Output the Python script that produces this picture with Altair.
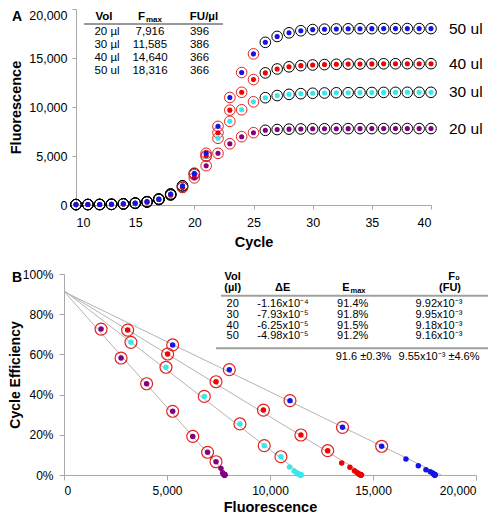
import altair as alt
import pandas as pd

FONT = "Liberation Sans, Arial, Helvetica, sans-serif"

# ---------------- data ----------------
cycles = list(range(10, 41))
series = ["20 ul", "30 ul", "40 ul", "50 ul"]
colors = ["#800080", "#38E8E8", "#F00000", "#1414E6"]

f20 = [40, 45, 50, 65, 105, 175, 300, 560, 1040, 1800, 2770, 4010, 5275, 6250, 6970, 7380,
       7620, 7700, 7740, 7760, 7775, 7780, 7785, 7790, 7790, 7795, 7795, 7800, 7800, 7800, 7800]
f30 = [45, 50, 55, 70, 120, 200, 340, 620, 1120, 1960, 3250, 4950, 6810, 8540, 9720, 10530,
       10950, 11170, 11290, 11360, 11400, 11430, 11450, 11460, 11470, 11480, 11490, 11495, 11500, 11500, 11500]
f40 = [40, 45, 50, 65, 110, 180, 310, 560, 1020, 1800, 3090, 5030, 7380, 9680, 11500, 12800,
       13480, 13880, 14100, 14220, 14290, 14330, 14360, 14380, 14390, 14400, 14410, 14415, 14420, 14420, 14420]
f50 = [45, 50, 55, 70, 120, 200, 340, 610, 1120, 1950, 3200, 5275, 8025, 10970, 13520, 15420,
       16600, 17200, 17570, 17780, 17900, 17940, 17965, 17980, 17990, 17995, 18000, 18000, 18000, 18000, 18000]
fluor = [f20, f30, f40, f50]

fit_start = [19, 20, 20, 21]
fit_end = [25, 25, 25, 25]

# cycle efficiency (%) from fit_start cycle to cycle 40
e20 = [72.6, 58.2, 45.4, 31.7, 19.2, 11.3, 6.6, 3.3, 1.1, 0.5, 0.3, 0.2, 0.1, 0.1, 0.1, 0.0, 0.1, 0.0, 0.1, 0.0, 0.0, 0.0]
e30 = [66.0, 53.6, 39.1, 25.4, 14.6, 9.1, 4.0, 2.0, 1.1, 0.6, 0.35, 0.3, 0.2, 0.1, 0.1, 0.1, 0.1, 0.05, 0.0, 0.0, 0.0]
e40 = [72.1, 60.2, 46.4, 32.3, 19.9, 12.1, 6.0, 3.8, 2.1, 1.3, 0.6, 0.4, 0.3, 0.2, 0.1, 0.1, 0.1, 0.05, 0.0, 0.0, 0.0]
e50 = [64.7, 52.4, 37.0, 23.7, 14.3, 8.0, 4.6, 2.6, 1.6, 1.0, 0.5, 0.3, 0.2, 0.1, 0.1, 0.1, 0.0, 0.0, 0.0, 0.0]
effs = [e20, e30, e40, e50]

fmax_num = [7916, 11585, 14640, 18316]
emax_num = [0.914, 0.918, 0.915, 0.912]

volA = ["20 \u00b5l", "30 \u00b5l", "40 \u00b5l", "50 ul"]
fmaxA = ["7,916", "11,585", "14,640", "18,316"]
fuA = ["396", "386", "366", "366"]

volB = ["20", "30", "40", "50"]
dE = ["-1.16x10\u207b\u2074", "-7.93x10\u207b\u2075", "-6.25x10\u207b\u2075", "-4.98x10\u207b\u2075"]
emaxB = ["91.4%", "91.8%", "91.5%", "91.2%"]
f0B = ["9.92x10\u207b\u00b3", "9.95x10\u207b\u00b3", "9.18x10\u207b\u00b3", "9.16x10\u207b\u00b3"]
summary = ["91.6 \u00b10.3%", "9.55x10\u207b\u00b3 \u00b14.6%"]

# ---------------- tables ----------------
rowsA = []
for s, fl, a, b in zip(series, fluor, fit_start, fit_end):
    for c, v in zip(cycles, fl):
        rowsA.append({"series": s, "cycle": c, "F": v, "fit": a <= c <= b})
dfA = pd.DataFrame(rowsA)

rowsB = []
for s, fl, ef, a, b in zip(series, fluor, effs, fit_start, fit_end):
    for k, e in enumerate(ef):
        c = a + k
        rowsB.append({"series": s, "cycle": c, "F": fl[cycles.index(c)], "E": e / 100.0, "fit": c <= b})
dfB = pd.DataFrame(rowsB)

rowsL = []
for s, fm, em in zip(series, fmax_num, emax_num):
    rowsL.append({"series": s, "F": 0, "E": em})
    rowsL.append({"series": s, "F": fm, "E": 0.0})
dfL = pd.DataFrame(rowsL)

dfLab = pd.DataFrame({"series": series, "cycle": [cycles[-1]] * 4, "F": [fl[-1] for fl in fluor]})

color = alt.Color("series:N", scale=alt.Scale(domain=series, range=colors), legend=None)


def txt(s, x, y, size, bold=False, align="center", baseline="middle", dy=0):
    return alt.Chart(pd.DataFrame({"t": [s]})).mark_text(
        font=FONT, fontSize=size, fontWeight="bold" if bold else "normal",
        align=align, baseline=baseline, dy=dy, color="black"
    ).encode(x=alt.value(x), y=alt.value(y), text="t:N")


def rule(x1, x2, y, col, w):
    return alt.Chart(pd.DataFrame({"t": [0]})).mark_rule(color=col, strokeWidth=w).encode(
        x=alt.value(x1), x2=alt.value(x2), y=alt.value(y))


# ---------------- panel A ----------------
xA = alt.X("cycle:Q", scale=alt.Scale(domain=[10, 40], range=[12, 367], nice=False, zero=False),
           axis=alt.Axis(values=[10, 15, 20, 25, 30, 35, 40], format="d", title="Cycle", labelFontSize=12.5,
                         tickSize=4, labelPadding=7, titlePadding=7))
yA = alt.Y("F:Q", scale=alt.Scale(domain=[0, 20000], nice=False),
           axis=alt.Axis(values=[0, 5000, 10000, 15000, 20000], format=",d", title="Fluorescence",
                         offset=-12, labelFontSize=12.5, tickSize=4, labelPadding=5, titlePadding=5.5,
                         labelBaseline={"condition": {"test": "datum.value >= 20000", "value": "top"},
                                        "value": "middle"}))

baseA = alt.Chart(dfA)
circ_black = baseA.transform_filter("!datum.fit").mark_point(
    shape="circle", filled=False, size=113, color="black", strokeWidth=1, opacity=1).encode(x=xA, y=yA)
circ_red = baseA.transform_filter("datum.fit").mark_point(
    shape="circle", filled=False, size=113, color="#E42222", strokeWidth=1, opacity=1).encode(x=xA, y=yA)
dotsA = baseA.mark_point(shape="circle", filled=True, size=26, opacity=1, strokeWidth=0).encode(
    x=xA, y=yA, color=color)
labsA = alt.Chart(dfLab).mark_text(align="left", baseline="middle", dx=18, fontSize=15.5,
                                   font=FONT, color="black").encode(x=xA, y=yA, text="series:N")

tabA = [
    txt("Vol", 40, 8, 11.5, bold=True),
    txt("F", 81, 8, 11.5, bold=True, align="right"),
    txt("max", 82, 11, 8, bold=True, align="left"),
    txt("FU/\u00b5l", 140, 8, 11.5, bold=True),
    rule(20, 159, 15, "#333333", 1),
]
for i in range(4):
    yy = 22.5 + 13 * i
    tabA.append(txt(volA[i], 43, yy, 11.5))
    tabA.append(txt(fmaxA[i], 86, yy, 11.5))
    tabA.append(txt(fuA[i], 135.5, yy, 11.5))

labelA = txt("A", -52, 1, 14, bold=True, align="left", baseline="top")

chartA = alt.layer(circ_black, circ_red, dotsA, labsA, *tabA, labelA).properties(width=367, height=196)

# ---------------- panel B ----------------
xB = alt.X("F:Q", scale=alt.Scale(domain=[0, 20000], nice=False),
           axis=alt.Axis(values=[0, 5000, 10000, 15000, 20000], format=",d", title="Fluorescence",
                         labelFontSize=12, tickSize=5, labelPadding=5, titlePadding=4))
yB = alt.Y("E:Q", scale=alt.Scale(domain=[0, 1], nice=False),
           axis=alt.Axis(values=[0, 0.2, 0.4, 0.6, 0.8, 1.0], format=".0%", title="Cycle Efficiency",
                         labelFontSize=12, tickSize=5, labelPadding=6, titlePadding=0, titleFontSize=14))

linesB = alt.Chart(dfL).mark_line(color="#B4B4B4", strokeWidth=1).encode(x=xB, y=yB, detail="series:N")
baseB = alt.Chart(dfB)
circ_redB = baseB.transform_filter("datum.fit").mark_point(
    shape="circle", filled=False, size=143, color="#E42222", strokeWidth=1.2, opacity=1).encode(x=xB, y=yB)
dotsB = baseB.mark_point(shape="circle", filled=True, size=30, opacity=1, strokeWidth=0).encode(
    x=xB, y=yB, color=color)

tabB = [
    txt("Vol", 168.7, 3, 11, bold=True),
    txt("(\u00b5l)", 168.7, 14, 11, bold=True),
    txt("\u0394E", 218.7, 14, 11, bold=True),
    txt("E", 285.5, 14, 11, bold=True, align="right"),
    txt("max", 286.5, 17, 7.5, bold=True, align="left"),
    txt("F\u2080", 390, 3, 11, bold=True),
    txt("(FU)", 386, 14, 11, bold=True),
    rule(157, 424, 21.7, "#A0A0A0", 2),
    rule(152, 424, 74.3, "#A0A0A0", 2),
    txt(summary[0], 299.5, 83.3, 11),
    txt(summary[1], 375, 83.3, 11),
]
for i in range(4):
    yy = 30 + 10.8 * i
    tabB.append(txt(volB[i], 168.7, yy, 11))
    tabB.append(txt(dE[i], 219, yy, 11))
    tabB.append(txt(emaxB[i], 288.7, yy, 11))
    tabB.append(txt(f0B[i], 375, yy, 11))

labelB = txt("B", -52, 4, 14, bold=True, align="left", baseline="middle")

chartB = alt.layer(linesB, circ_redB, dotsB, *tabB, labelB).properties(width=412, height=201)

chart = alt.vconcat(chartA, chartB, spacing=19).properties(
    padding={"left": 0, "top": 0, "right": 0, "bottom": 0}
).configure_view(stroke=None).configure_axis(
    grid=False, domainColor="#A8A8A8", tickColor="#A8A8A8", labelColor="black", titleColor="black",
    labelFont=FONT, titleFont=FONT, titleFontWeight="bold", titleFontSize=14.5
)

chart.save("out.html", embed_options={"renderer": "svg", "actions": False})
